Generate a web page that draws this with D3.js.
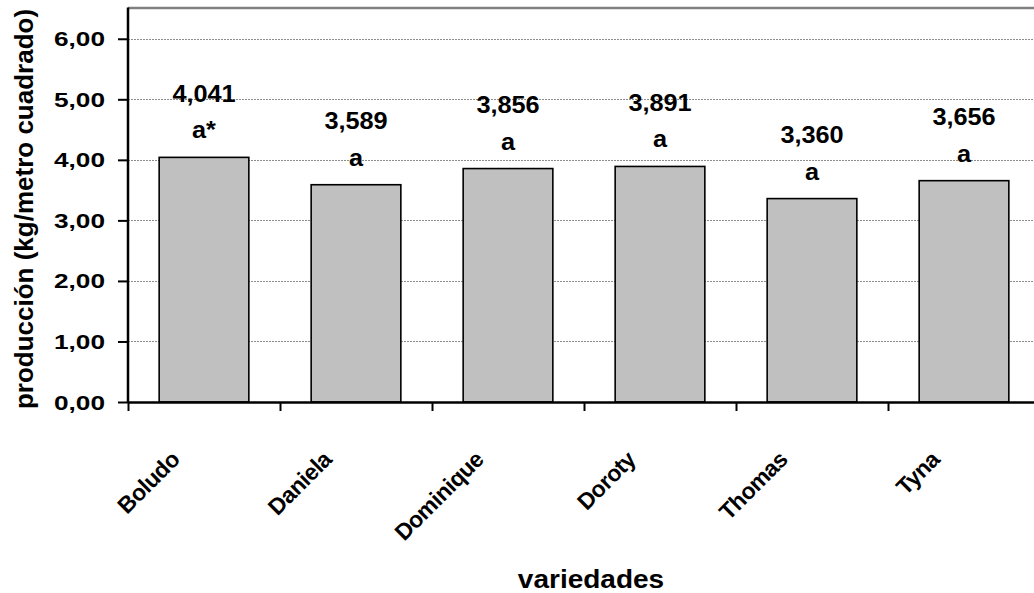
<!DOCTYPE html>
<html>
<head>
<meta charset="utf-8">
<script src="https://cdn.jsdelivr.net/npm/d3@7"></script>
<style>
  html, body { margin: 0; padding: 0; background: #fff; }
  svg { display: block; font-family: Arial, "Liberation Sans", sans-serif; }
</style>
</head>
<body>
<svg id="chart" width="1034" height="593"></svg>
<script>
const categories = ["Boludo", "Daniela", "Dominique", "Doroty", "Thomas", "Tyna"];
const values = [4.041, 3.589, 3.856, 3.891, 3.360, 3.656];
const valueLabels = ["4,041", "3,589", "3,856", "3,891", "3,360", "3,656"];
const letters = ["a*", "a", "a", "a", "a", "a"];
const yTicks = [0, 1, 2, 3, 4, 5, 6];
const yTickLabels = ["0,00", "1,00", "2,00", "3,00", "4,00", "5,00", "6,00"];
const yTitle = "producción (kg/metro cuadrado)";
const xTitle = "variedades";

const svg = d3.select("#chart");
const plotLeft = 128, plotRight = 1040, plotTop = 8.5, plotBottom = 402;

const x = d3.scaleBand().domain(categories).range([plotLeft, plotRight])
  .paddingInner(0.41).paddingOuter(0.205);
const y = d3.scaleLinear().domain([0, 6.5]).range([plotBottom, plotTop]);

// gridlines
svg.append("g").selectAll("line").data(yTicks.filter(d => d > 0)).join("line")
  .attr("x1", plotLeft).attr("x2", plotRight)
  .attr("y1", d => Math.round(y(d)) + 0.5).attr("y2", d => Math.round(y(d)) + 0.5)
  .attr("stroke", "#8c8c8c").attr("stroke-width", 1).attr("stroke-dasharray", "2,1");

// top border
svg.append("line").attr("x1", plotLeft).attr("x2", plotRight).attr("y1", 8).attr("y2", 8)
  .attr("stroke", "#808080").attr("stroke-width", 2.5);

// bars
svg.append("g").selectAll("rect").data(categories).join("rect")
  .attr("x", d => x(d)).attr("width", x.bandwidth())
  .attr("y", (d, i) => y(values[i])).attr("height", (d, i) => y(0) - y(values[i]))
  .attr("fill", "#c0c0c0").attr("stroke", "#000").attr("stroke-width", 1.6);

// y axis
const yAxis = d3.axisLeft(y).tickValues(yTicks).tickSize(10).tickSizeOuter(0)
  .tickFormat((d, i) => yTickLabels[i]);
const gy = svg.append("g").attr("transform", `translate(${plotLeft},0)`).call(yAxis);
gy.select(".domain").remove();
gy.selectAll(".tick line").attr("stroke", "#000").attr("stroke-width", 2);
gy.selectAll(".tick text").remove();
svg.append("line").attr("x1", plotLeft).attr("x2", plotLeft).attr("y1", plotTop - 1).attr("y2", plotBottom + 1)
  .attr("stroke", "#000").attr("stroke-width", 2.5);
svg.append("g").selectAll("text").data(yTicks).join("text")
  .attr("transform", d => `translate(105,${y(d) + 7.5}) scale(1.28,1)`)
  .attr("text-anchor", "end").attr("font-weight", "bold").attr("font-size", 20.5)
  .attr("fill", "#000").text((d, i) => yTickLabels[i]);

// x axis
const xAxisScale = d3.scaleLinear().domain([0, categories.length]).range([plotLeft, plotRight]);
const gx = svg.append("g").attr("transform", `translate(0,${plotBottom})`)
  .call(d3.axisBottom(xAxisScale).ticks(categories.length).tickSize(9).tickSizeOuter(0).tickFormat(""));
gx.select(".domain").attr("stroke", "#000").attr("stroke-width", 2.5);
gx.selectAll(".tick line").attr("stroke", "#000").attr("stroke-width", 2);

// category labels
svg.append("g").selectAll("text").data(categories).join("text")
  .attr("transform", d => `translate(${x(d) + x.bandwidth() / 2 - 23},${461}) rotate(-45)`)
  .attr("text-anchor", "end").attr("font-weight", "bold").attr("font-size", 23)
  .attr("letter-spacing", -0.5).attr("fill", "#000").text(d => d);

// value labels
const vl = svg.append("g");
vl.selectAll("text.v").data(categories).join("text").attr("class", "v")
  .attr("transform", (d, i) => `translate(${x(d) + x.bandwidth() / 2},${y(values[i]) - 55.5}) scale(1.1,1)`)
  .attr("text-anchor", "middle").attr("font-weight", "bold").attr("font-size", 23)
  .attr("fill", "#000").text((d, i) => valueLabels[i]);
vl.selectAll("text.l").data(categories).join("text").attr("class", "l")
  .attr("transform", (d, i) => `translate(${x(d) + x.bandwidth() / 2},${y(values[i]) - 19}) scale(1.1,1)`)
  .attr("text-anchor", "middle").attr("font-weight", "bold").attr("font-size", 23)
  .attr("fill", "#000").text((d, i) => letters[i]);

// titles
svg.append("text").attr("transform", "translate(33,209) rotate(-90)")
  .attr("text-anchor", "middle").attr("font-weight", "bold").attr("font-size", 26)
  .attr("fill", "#000").text(yTitle);
svg.append("text").attr("transform", "translate(591,588) scale(1.12,1)")
  .attr("text-anchor", "middle").attr("font-weight", "bold").attr("font-size", 25)
  .attr("fill", "#000").text(xTitle);
</script>
</body>
</html>
